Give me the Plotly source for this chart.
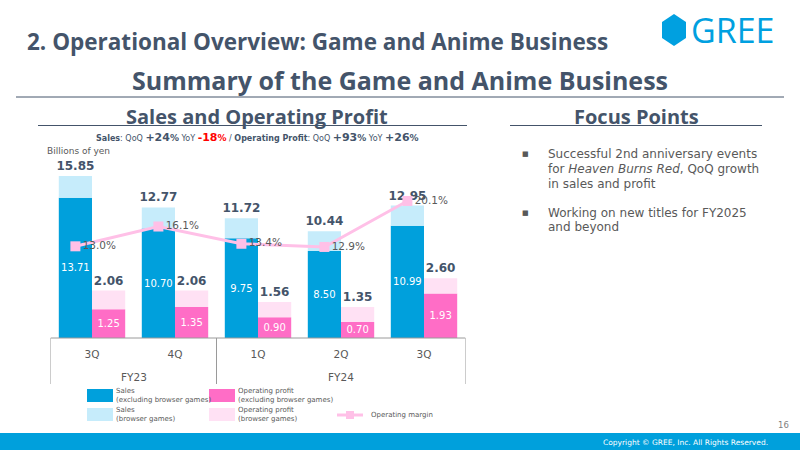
import plotly.graph_objects as go
import numpy as np

# ---------------- data ----------------
quarters = ["3Q", "4Q", "1Q", "2Q", "3Q"]
fiscal_years = ["FY23", "FY23", "FY24", "FY24", "FY24"]
sales_excl = [13.71, 10.70, 9.75, 8.50, 10.99]
sales_total = [15.85, 12.77, 11.72, 10.44, 12.95]
profit_excl = [1.25, 1.35, 0.90, 0.70, 1.93]
profit_total = [2.06, 2.06, 1.56, 1.35, 2.60]
op_margin = [13.0, 16.1, 13.4, 12.9, 20.1]

focus_points = [
    ["Successful 2nd anniversary events",
     "for <i>Heaven Burns Red</i>, QoQ growth",
     "in sales and profit"],
    ["Working on new titles for FY2025",
     "and beyond"],
]

# ---------------- styles ----------------
W, H = 800, 450
C_SALES = "#00A0DC"
C_SALES_L = "#C6ECFB"
C_PROF = "#FF6DC6"
C_PROF_L = "#FFE1F4"
C_LINE = "#FFC0E7"
C_HEAD = "#44546A"
C_TXT = "#595959"
FONT = "DejaVu Sans"
HFONT = "Open Sans"
BAR_W = 0.4


def px(x):
    return x / W


def py(y):
    return 1 - y / H


def note(x, y, text, font, xanchor="center", **kw):
    d = dict(x=px(x), y=py(y), xref="paper", yref="paper", xanchor=xanchor,
             yanchor="middle", text=text, showarrow=False, font=font)
    d.update(kw)
    return d


idx = np.arange(len(quarters))
sales_browser = [t - e for t, e in zip(sales_total, sales_excl)]
profit_browser = [t - e for t, e in zip(profit_total, profit_excl)]

fig = go.Figure()

inside_font = dict(family=FONT, size=10, color="white")
outside_font = dict(family=FONT, size=12, color=C_HEAD, weight="bold")

fig.add_trace(go.Bar(
    x=idx, y=sales_excl, offset=-BAR_W, width=BAR_W,
    marker=dict(color=C_SALES, line=dict(width=0)),
    text=[f"{v:.2f}" for v in sales_excl], textposition="inside", textangle=0,
    insidetextanchor="middle", textfont=inside_font, constraintext="none",
    name="Sales (excluding browser games)", yaxis="y", hoverinfo="skip"))
fig.add_trace(go.Bar(
    x=idx, y=sales_browser, base=sales_excl, offset=-BAR_W, width=BAR_W,
    marker=dict(color=C_SALES_L, line=dict(width=0)),
    text=[f"{v:.2f}" for v in sales_total], textposition="outside", textangle=0,
    textfont=outside_font, constraintext="none", cliponaxis=False,
    name="Sales (browser games)", yaxis="y", hoverinfo="skip"))
fig.add_trace(go.Bar(
    x=idx, y=profit_excl, offset=0, width=BAR_W,
    marker=dict(color=C_PROF, line=dict(width=0)),
    text=[f"{v:.2f}" for v in profit_excl], textposition="inside", textangle=0,
    insidetextanchor="middle", textfont=inside_font, constraintext="none",
    name="Operating profit (excluding browser games)", yaxis="y2", hoverinfo="skip"))
fig.add_trace(go.Bar(
    x=idx, y=profit_browser, base=profit_excl, offset=0, width=BAR_W,
    marker=dict(color=C_PROF_L, line=dict(width=0)),
    text=[f"{v:.2f}" for v in profit_total], textposition="outside", textangle=0,
    textfont=outside_font, constraintext="none", cliponaxis=False,
    name="Operating profit (browser games)", yaxis="y2", hoverinfo="skip"))
fig.add_trace(go.Scatter(
    x=idx - BAR_W / 2, y=op_margin, mode="lines+markers+text",
    line=dict(color=C_LINE, width=3),
    marker=dict(symbol="square", size=10, color=C_LINE),
    text=[f"{v:.1f}%" for v in op_margin], textposition="middle right",
    textfont=dict(family=FONT, size=10.5, color=C_TXT),
    name="Operating margin", yaxis="y3", cliponaxis=False, hoverinfo="skip"))

y_dom = [py(338), py(154)]
x_dom = [px(50.5), px(465.5)]

shapes = []
annotations = []

# axis baseline and group dividers
shapes.append(dict(type="line", xref="x", yref="paper", x0=-0.5, x1=len(quarters) - 0.5,
                   y0=py(338), y1=py(338), line=dict(color="#9A9A9A", width=1)))
groups = []
for i, fy in enumerate(fiscal_years):
    if not groups or groups[-1][0] != fy:
        groups.append([fy, i, i])
    else:
        groups[-1][2] = i
div_x = [g[1] - 0.5 for g in groups] + [groups[-1][2] + 0.5]
for dx in div_x:
    shapes.append(dict(type="line", xref="x", yref="paper", x0=dx, x1=dx,
                       y0=py(338), y1=py(384), line=dict(color="#9A9A9A", width=1)))
for fy, a, b in groups:
    annotations.append(dict(x=(a + b) / 2, y=py(377), xref="x", yref="paper",
                            xanchor="center", yanchor="middle",
                            text=fy, showarrow=False,
                            font=dict(family=FONT, size=10.5, color=C_TXT)))

# header
annotations.append(note(25, 41, "<b>2. Operational Overview: Game and Anime Business</b>",
                        dict(family=HFONT, size=22.5, color=C_HEAD), xanchor="left"))
annotations.append(note(400, 80, "<b>Summary of the Game and Anime Business</b>",
                        dict(family=HFONT, size=25, color=C_HEAD)))
shapes.append(dict(type="line", xref="paper", yref="paper", x0=px(16), x1=px(784),
                   y0=py(97), y1=py(97), line=dict(color=C_HEAD, width=1)))

# section headings
annotations.append(note(257, 116, "<b>Sales and Operating Profit</b>",
                        dict(family=HFONT, size=20, color=C_HEAD)))
annotations.append(note(636, 116, "<b>Focus Points</b>",
                        dict(family=HFONT, size=20, color=C_HEAD)))
shapes.append(dict(type="line", xref="paper", yref="paper", x0=px(38), x1=px(467),
                   y0=py(125.5), y1=py(125.5), line=dict(color=C_HEAD, width=1)))
shapes.append(dict(type="line", xref="paper", yref="paper", x0=px(510), x1=px(762),
                   y0=py(125.5), y1=py(125.5), line=dict(color=C_HEAD, width=1)))


def big(s, color=C_HEAD):
    return (f"<b style='font-size:11px;color:{color}'>{s}</b>"
            f"<b style='font-size:9px;color:{color}'>%</b>")


subtitle = ("<b>Sales</b>: QoQ " + big("+24") + " YoY " + big("-18", "#FF0000") +
            " / <b>Operating Profit</b>: QoQ " + big("+93") + " YoY " + big("+26"))
annotations.append(note(257, 137, subtitle, dict(family=FONT, size=8, color=C_HEAD)))
annotations.append(note(45, 151, "Billions of yen", dict(family=FONT, size=9, color=C_TXT),
                        xanchor="left"))

# focus points
first_line_y = [154.5, 212.5]
for block, y0 in zip(focus_points, first_line_y):
    annotations.append(note(525, y0, "■", dict(family=FONT, size=7, color=C_TXT)))
    for k, line in enumerate(block):
        annotations.append(note(546, y0 + 14.6 * k, line,
                                dict(family=FONT, size=12, color=C_TXT), xanchor="left"))

# custom legend
leg_font = dict(family=FONT, size=7, color=C_TXT)
legend_items = [
    (C_SALES, 87, 389, "Sales", "(excluding browser games)"),
    (C_SALES_L, 87, 408, "Sales", "(browser games)"),
    (C_PROF, 209, 389, "Operating profit", "(excluding browser games)"),
    (C_PROF_L, 209, 408, "Operating profit", "(browser games)"),
]
for col, lx, ly, t1, t2 in legend_items:
    shapes.append(dict(type="rect", xref="paper", yref="paper", x0=px(lx), x1=px(lx + 26),
                       y0=py(ly + 13), y1=py(ly), fillcolor=col, line=dict(width=0)))
    annotations.append(note(lx + 27, ly + 2, t1, leg_font, xanchor="left"))
    annotations.append(note(lx + 27, ly + 11, t2, leg_font, xanchor="left"))
shapes.append(dict(type="line", xref="paper", yref="paper", x0=px(337), x1=px(363),
                   y0=py(415), y1=py(415), line=dict(color=C_LINE, width=3)))
shapes.append(dict(type="rect", xref="paper", yref="paper", x0=px(346), x1=px(354),
                   y0=py(419), y1=py(411), fillcolor=C_LINE, line=dict(width=0)))
annotations.append(note(369, 415, "Operating margin", leg_font, xanchor="left"))

# logo
hx, hy, hw, hh = 674, 30, 12, 16
hex_path = (f"M {px(hx)} {py(hy - hh)} L {px(hx + hw)} {py(hy - hh / 2)} "
            f"L {px(hx + hw)} {py(hy + hh / 2)} L {px(hx)} {py(hy + hh)} "
            f"L {px(hx - hw)} {py(hy + hh / 2)} L {px(hx - hw)} {py(hy - hh / 2)} Z")
shapes.append(dict(type="path", xref="paper", yref="paper", path=hex_path,
                   fillcolor="#00A0E0", line=dict(width=0)))
annotations.append(note(689, 30, "GREE", dict(family=HFONT, size=34, color="#00A0E0"),
                        xanchor="left"))

# footer
shapes.append(dict(type="rect", xref="paper", yref="paper", x0=0, x1=1,
                   y0=0, y1=py(433), fillcolor="#00A0DC", line=dict(width=0)))
annotations.append(note(770, 442, "Copyright © GREE, Inc. All Rights Reserved.",
                        dict(family=FONT, size=7.5, color="white"), xanchor="right"))
annotations.append(note(791, 425, "16", dict(family=FONT, size=8.5, color="#7F7F7F"),
                        xanchor="right"))

fig.update_layout(
    width=W, height=H, margin=dict(l=0, r=0, t=0, b=0),
    paper_bgcolor="white", plot_bgcolor="rgba(0,0,0,0)",
    barmode="overlay", showlegend=False,
    xaxis=dict(domain=x_dom, range=[-0.5, len(quarters) - 0.5], tickvals=idx,
               ticktext=quarters, ticks="outside", ticklen=6,
               tickcolor="rgba(0,0,0,0)", showgrid=False, zeroline=False, showline=False,
               tickfont=dict(family=FONT, size=10.5, color=C_TXT), fixedrange=True),
    yaxis=dict(domain=y_dom, range=[0, 18], visible=False, fixedrange=True),
    yaxis2=dict(domain=y_dom, range=[0, 8.0], overlaying="y", visible=False),
    yaxis3=dict(domain=y_dom, range=[-1.35, 27.45], overlaying="y", visible=False),
    shapes=shapes, annotations=annotations,
)

fig.write_html("out.html")
